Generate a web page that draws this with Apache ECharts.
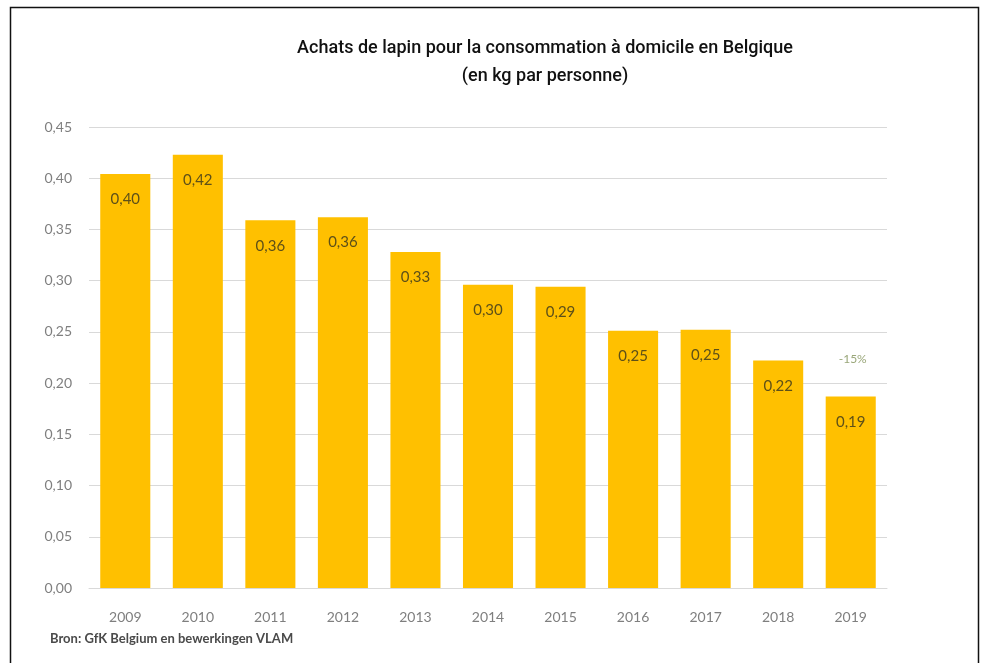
<!DOCTYPE html>
<html>
<head>
<meta charset="utf-8">
<script src="https://cdn.jsdelivr.net/npm/echarts@6/dist/echarts.min.js"></script>
<style>
  html, body { margin: 0; padding: 0; background: #fff; }
  #chart { width: 985px; height: 663px; }
</style>
</head>
<body>
<div id="chart"></div>
<script>
// jaren en aankopen (kg per persoon)
const years = ["2009", "2010", "2011", "2012", "2013", "2014", "2015", "2016", "2017", "2018", "2019"];
const purchases = [0.404, 0.423, 0.359, 0.362, 0.328, 0.296, 0.294, 0.251, 0.252, 0.222, 0.187];
const yTicks = [0, 0.05, 0.10, 0.15, 0.20, 0.25, 0.30, 0.35, 0.40, 0.45];
const changeLabel = "-15%";

const fmt = v => v.toFixed(2).replace(".", ",");

const chart = echarts.init(document.getElementById("chart"));

const option = {
  animation: false,
  backgroundColor: "#fff",
  title: {
    text: "Achats de lapin pour la consommation à domicile en Belgique\n(en kg par personne)",
    left: 540,
    top: 29,
    textAlign: "center",
    textStyle: {
      fontFamily: "Roboto",
      fontSize: 18,
      fontWeight: 500,
      color: "#111",
      lineHeight: 28
    }
  },
  grid: {
    left: 89,
    right: 98,
    top: 127,
    bottom: 75
  },
  xAxis: {
    type: "category",
    data: years,
    axisLine: { lineStyle: { color: "#d9d9d9" } },
    axisTick: { show: false },
    axisLabel: {
      margin: 22,
      fontFamily: "Lato",
      fontSize: 14,
      color: "#7f7f7f"
    }
  },
  yAxis: {
    type: "value",
    min: yTicks[0],
    max: yTicks[yTicks.length - 1],
    interval: 0.05,
    axisLine: { show: false },
    axisTick: { show: false },
    splitLine: { lineStyle: { color: "#d9d9d9", width: 1 } },
    axisLabel: {
      margin: 17,
      fontFamily: "Lato",
      fontSize: 14,
      color: "#7f7f7f",
      formatter: v => fmt(v)
    }
  },
  series: [
    {
      type: "bar",
      data: purchases,
      barCategoryGap: "31%",
      itemStyle: { color: "#FFC000" },
      label: {
        show: true,
        position: "insideTop",
        distance: 18,
        fontFamily: "Lato",
        fontSize: 15,
        color: "#5e5018",
        formatter: p => fmt(p.value)
      },
      markPoint: {
        symbol: "circle",
        symbolSize: 0,
        data: [
          {
            coord: [years[years.length - 1], purchases[purchases.length - 1]],
            value: changeLabel,
            label: {
              show: true,
              position: "inside",
              offset: [2, -37],
              fontFamily: "Lato",
              fontSize: 12,
              color: "#9aa77a",
              formatter: changeLabel
            }
          }
        ]
      }
    }
  ],
  graphic: [
    {
      type: "rect",
      shape: { x: 10.5, y: 7.5, width: 968, height: 670 },
      style: { fill: "none", stroke: "#111", lineWidth: 1.5 }
    },
    {
      type: "text",
      left: 50,
      top: 632,
      style: {
        text: "Bron: GfK Belgium en bewerkingen VLAM",
        fontFamily: "Lato",
        fontSize: 13,
        fontWeight: "bold",
        fill: "#4a4a4a"
      }
    }
  ]
};

chart.setOption(option);
</script>
</body>
</html>
